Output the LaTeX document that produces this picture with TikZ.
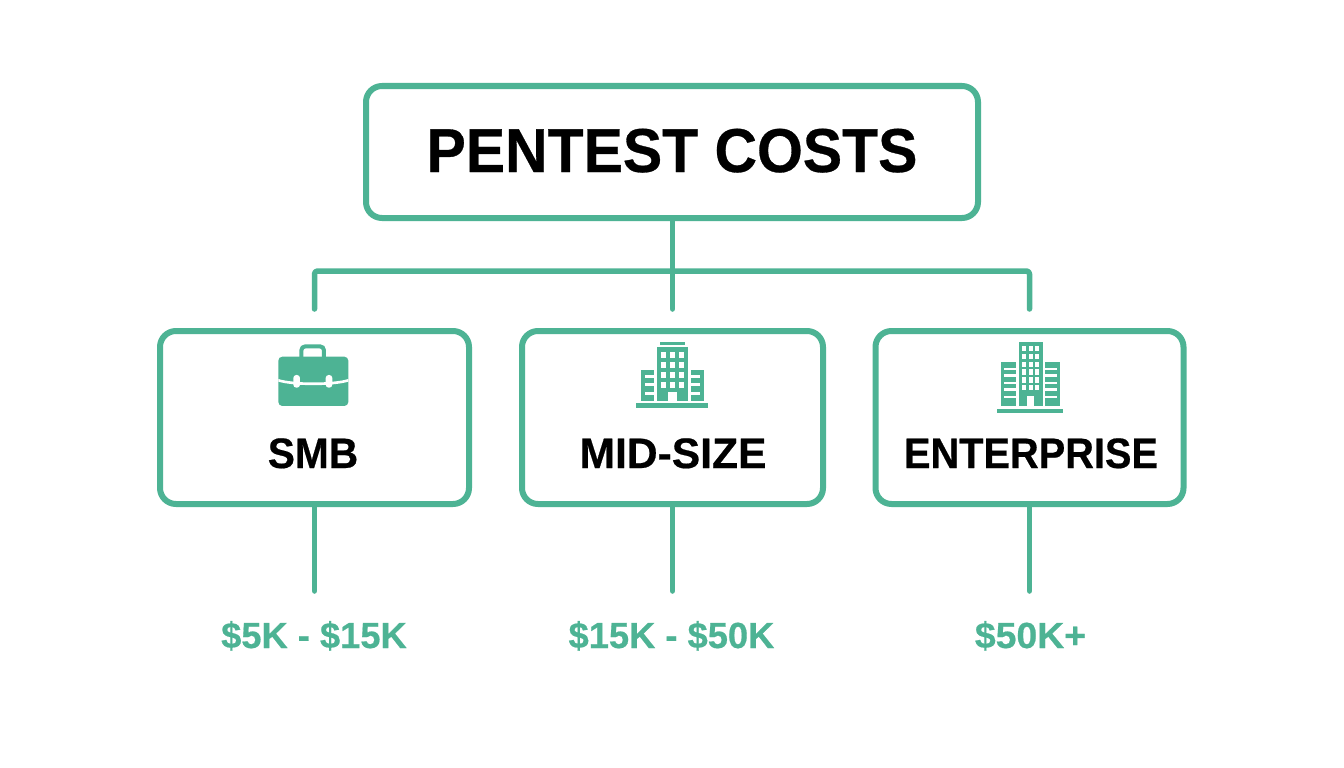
\documentclass[tikz,border=0pt]{standalone}
\usepackage{fontspec}
\setmainfont{Liberation Sans}[BoldFeatures={FakeBold=0.5}]
\definecolor{teal1}{HTML}{4DB394}
\tikzset{
  box/.style={draw=teal1,line width=6pt,rounded corners=16pt,fill=white,inner sep=0pt},
  link/.style={draw=teal1,line width=5.5pt,line cap=round,line join=round,rounded corners=3pt},
  titletext/.style={font=\fontsize{62}{64}\selectfont\bfseries,text=black,inner sep=0pt},
  labeltext/.style={font=\fontsize{42.6}{44}\selectfont\bfseries,text=black,inner sep=0pt},
  pricetext/.style={font=\fontsize{36.3}{38}\selectfont\bfseries,text=teal1,inner sep=0pt},
  icon/.style={fill=teal1,draw=none},
  hole/.style={fill=white,draw=none}
}
\begin{document}
\begin{tikzpicture}[x=1pt,y=-1pt]
\useasboundingbox (0,0) rectangle (1344,768);
\fill[white] (0,0) rectangle (1344,768);
% boxes
\node[box,minimum width=612pt,minimum height=132pt] (title) at (672,152) {};
\node[box,minimum width=309pt,minimum height=173pt] (smb) at (314.5,417.5) {};
\node[box,minimum width=301pt,minimum height=173pt] (mid) at (672.5,417.5) {};
\node[box,minimum width=308pt,minimum height=173pt] (ent) at (1029.5,417.5) {};
% connector coordinates
\coordinate (bus) at (672.5,271);
\coordinate (dropA) at (314.5,309);
\coordinate (dropB) at (672.5,309);
\coordinate (dropC) at (1029.5,309);
\coordinate (endA) at (314.5,591);
\coordinate (endB) at (672.5,591);
\coordinate (endC) at (1029.5,591);
% connectors
\draw[link] (title.south -| bus) -- (dropB);
\draw[link] (dropA) |- (bus) -| (dropC);
\draw[link] (smb.south) -- (endA);
\draw[link] (mid.south) -- (endB);
\draw[link] (ent.south) -- (endC);
% labels
\node[titletext,anchor=base] (ltitle) at (672,172) {\scalebox{0.95}[1]{PENTEST COSTS}};
\node[labeltext,anchor=base] (lsmb) at (313,468) {\scalebox{0.955}[1]{SMB}};
\node[labeltext,anchor=base] (lmid) at (673,468) {MID-SIZE};
\node[labeltext,anchor=base] (lent) at (1031,468) {\scalebox{0.933}[1]{ENTERPRISE}};
\node[pricetext,anchor=base] (pa) at (314,648) {\$5K - \$15K};
\node[pricetext,anchor=base] (pb) at (671.5,648) {\$15K - \$50K};
\node[pricetext,anchor=base] (pc) at (1030.5,648) {\scalebox{1.03}[1]{\$50K+}};
% briefcase
\begin{scope}[shift={(260,335)},x=0.3333pt,y=-0.3333pt]
\draw[teal1,line width=4pt,rounded corners=4pt] (124,70) -- (124,34) -- (192,34) -- (192,70);
\fill[icon,rounded corners=4pt] (55,65) rectangle (265,213);
\path[hole] (55,132) .. controls (100,146) and (220,146) .. (265,132) -- (265,140) .. controls (220,154) and (100,154) .. (55,140) -- cycle;
\fill[hole,rounded corners=3pt] (100,120) rectangle (120,158);
\fill[hole,rounded corners=3pt] (197,120) rectangle (217,158);
\end{scope}
% mid-size building
\begin{scope}[shift={(620,330)},x=0.3333pt,y=-0.3333pt]
\fill[icon] (120,35) rectangle (195,45);
\fill[icon] (110,52) rectangle (203,213);
\foreach \c in {122,149,176}{\foreach \r in {67,95,125,155}{
  \fill[hole] (\c,\r) rectangle (\c+15,\r+18);}}
\fill[hole] (145,185) rectangle (170,213);
\fill[icon] (63,120) rectangle (103,213);
\fill[icon] (212,120) rectangle (251,213);
\foreach \r in {135,160,185}{
  \fill[hole] (75,\r) rectangle (103,\r+9);
  \fill[hole] (212,\r) rectangle (239,\r+9);}
\fill[icon] (48,220) rectangle (265,233);
\end{scope}
% enterprise building
\begin{scope}[shift={(980,330)},x=0.3333pt,y=-0.3333pt]
\fill[icon] (117,37) rectangle (188,228);
\foreach \c in {125,146,165}{\foreach \r in {48,72,95,118,142,165}{
  \fill[hole] (\c,\r) rectangle (\c+13,\r+16);}}
\fill[hole] (140,198) rectangle (163,228);
\fill[icon] (63,95) rectangle (108,228);
\fill[icon] (195,95) rectangle (240,228);
\foreach \r in {113,133,155,175,197}{
  \fill[hole] (73,\r) rectangle (108,\r+7);
  \fill[hole] (195,\r) rectangle (230,\r+7);}
\fill[icon] (50,236) rectangle (250,248);
\end{scope}
\end{tikzpicture}
\end{document}
